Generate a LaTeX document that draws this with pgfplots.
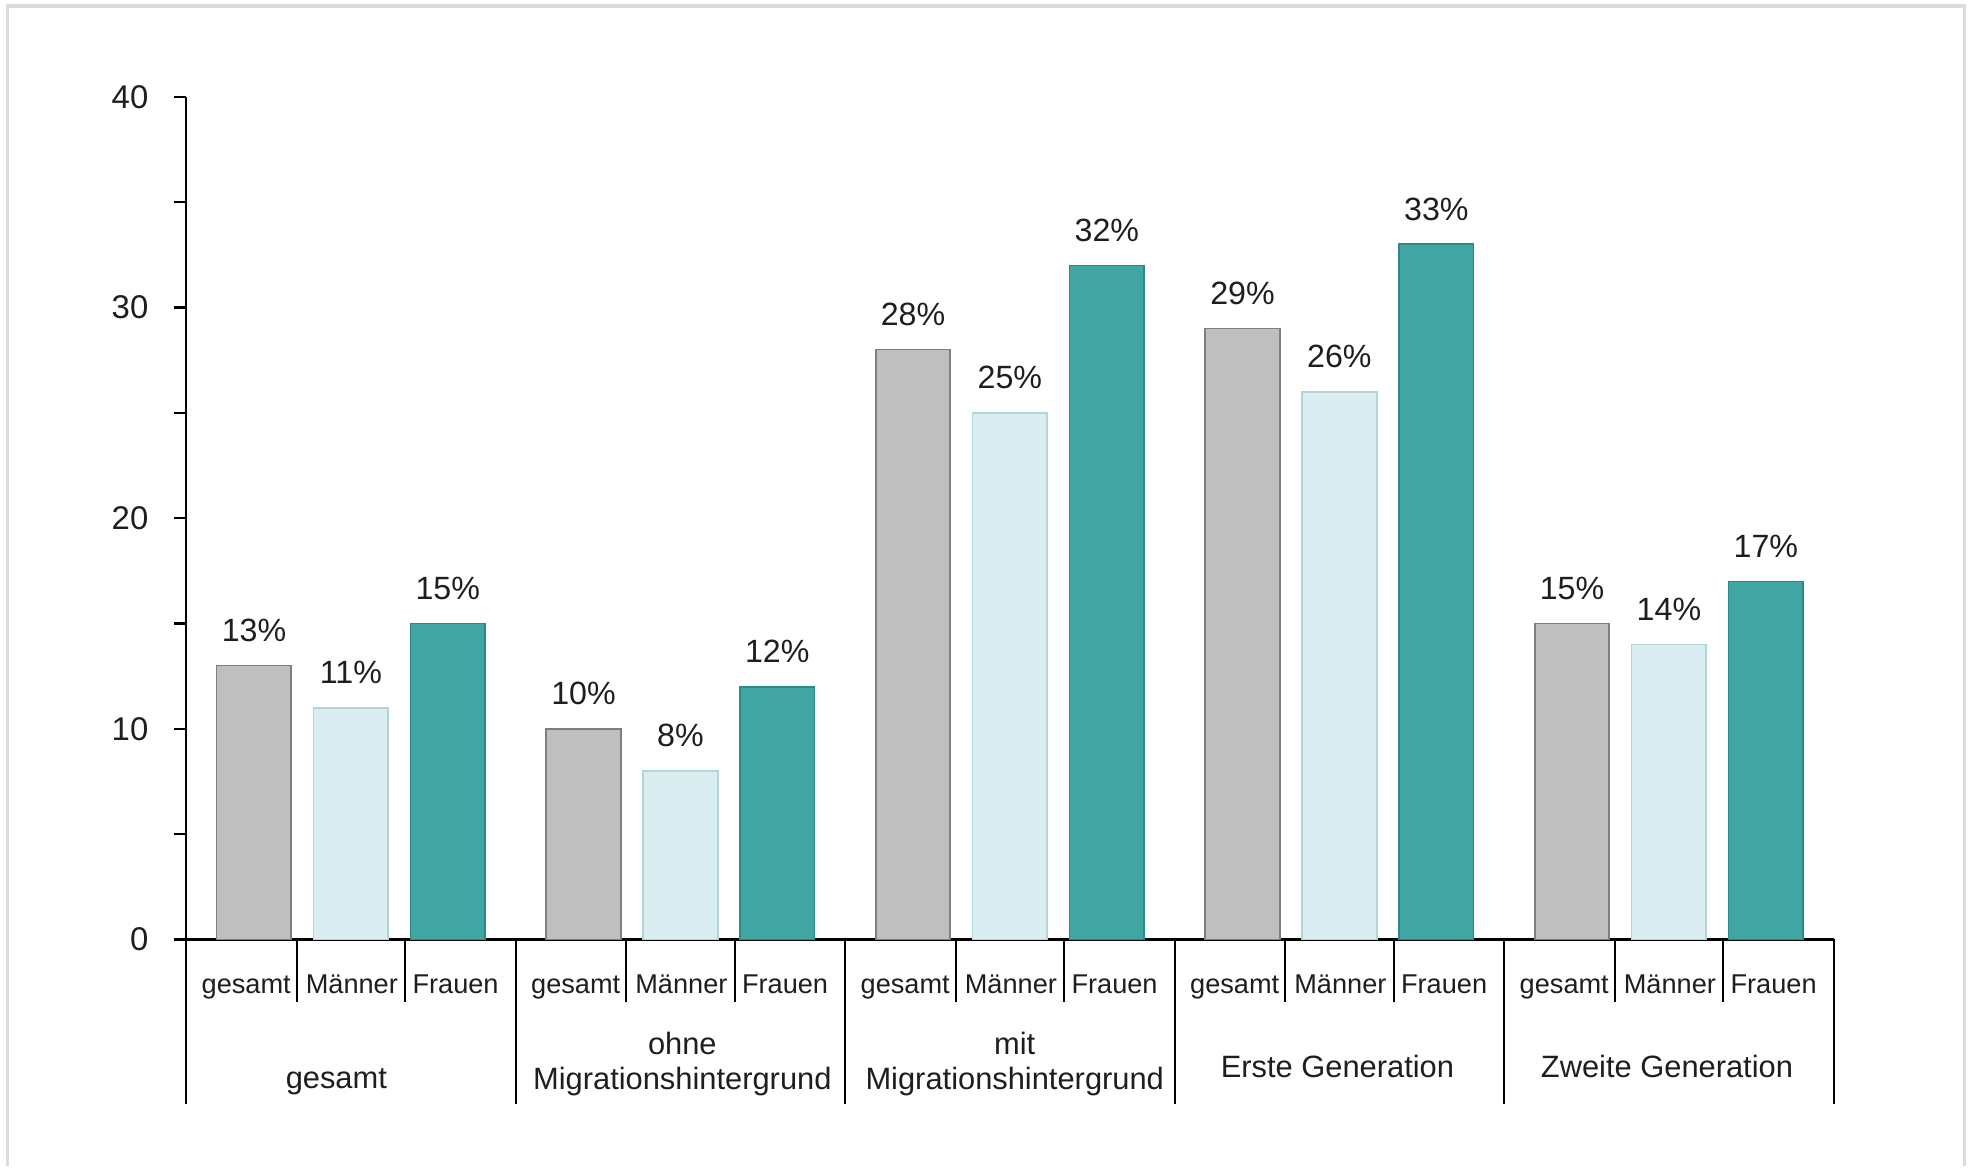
\documentclass[border=0pt]{standalone}
\usepackage{pgfplots}
\pgfplotsset{compat=1.18}
\usepackage{fontspec}
\setmainfont{Liberation Sans}
\definecolor{cgray}{HTML}{BFBFBF}
\definecolor{cgrayd}{HTML}{7F7F7F}
\definecolor{clight}{HTML}{DAEDF0}
\definecolor{clightd}{HTML}{B2D5DA}
\definecolor{cteal}{HTML}{41A6A3}
\definecolor{ctealdd}{HTML}{2B8A86}
\definecolor{ctext}{HTML}{1E1E1E}
\definecolor{cframe}{HTML}{DCDCDC}
\newcommand{\subfont}{\fontsize{8.1}{9.5}\selectfont}
\newcommand{\grpfont}{\fontsize{9.2}{10.6}\selectfont}
\tikzset{sublab/.style={font=\subfont, text=ctext, inner sep=0pt, anchor=base, yshift=-16.2pt},
         grplab/.style={font=\grpfont, text=ctext, inner sep=0pt, align=center}}
\begin{document}
\begin{tikzpicture}
\path (-55.5pt,-67.5pt) rectangle (532.5pt,280.125pt);
\draw[cframe, line width=1.1pt] (-53.25pt,-67.5pt) -- (-53.25pt,278.25pt) -- (530.25pt,278.25pt) -- (530.25pt,-67.5pt);
\begin{axis}[
  at={(0,0)}, anchor=south west,
  scale only axis,
  width=491.25pt, height=251.25pt,
  xmin=0, xmax=17, ymin=0, ymax=40,
  clip=false,
  axis lines*=left,
  axis line style={line width=0.75pt, black},
  xtick=\empty,
  ytick={0,10,20,30,40},
  minor ytick={5,15,25,35},
  ytick pos=left,
  tick align=outside,
  major tick length=3.75pt,
  minor tick length=3.75pt,
  every tick/.style={black, line width=0.75pt},
  /pgf/number format/assume math mode=true,
  yticklabel style={font=\fontsize{9.8}{11}\selectfont, text=ctext, xshift=-4pt},
  ybar, bar width=0.77, bar shift=0pt,
  nodes near coords={\pgfmathprintnumber\pgfplotspointmeta\%},
  every node near coord/.append style={font=\fontsize{9.6}{11}\selectfont, text=ctext, anchor=base, inner sep=0pt, yshift=7.2pt},
]
\addplot[fill=cgray, draw=cgrayd, line width=0.5pt] coordinates {(0.7,13) (4.1,10) (7.5,28) (10.9,29) (14.3,15)};
\addplot[fill=clight, draw=clightd, line width=0.5pt] coordinates {(1.7,11) (5.1,8) (8.5,25) (11.9,26) (15.3,14)};
\addplot[fill=cteal, draw=ctealdd, line width=0.5pt] coordinates {(2.7,15) (6.1,12) (9.5,32) (12.9,33) (16.3,17)};

% extend x axis line to the left
\draw[line width=0.75pt] (axis cs:0,0) -- ++(-3.75pt,0);
% group separators
\draw[line width=0.6pt] (axis cs:0,0) -- ++(0,-49.1pt);
\draw[line width=0.6pt] (axis cs:3.4,0) -- ++(0,-49.1pt);
\draw[line width=0.6pt] (axis cs:6.8,0) -- ++(0,-49.1pt);
\draw[line width=0.6pt] (axis cs:10.2,0) -- ++(0,-49.1pt);
\draw[line width=0.6pt] (axis cs:13.6,0) -- ++(0,-49.1pt);
\draw[line width=0.6pt] (axis cs:17,0) -- ++(0,-49.1pt);
% sub separators
\draw[line width=0.6pt] (axis cs:1.14,0) -- ++(0,-18.75pt);
\draw[line width=0.6pt] (axis cs:2.26,0) -- ++(0,-18.75pt);
\draw[line width=0.6pt] (axis cs:4.54,0) -- ++(0,-18.75pt);
\draw[line width=0.6pt] (axis cs:5.66,0) -- ++(0,-18.75pt);
\draw[line width=0.6pt] (axis cs:7.94,0) -- ++(0,-18.75pt);
\draw[line width=0.6pt] (axis cs:9.06,0) -- ++(0,-18.75pt);
\draw[line width=0.6pt] (axis cs:11.34,0) -- ++(0,-18.75pt);
\draw[line width=0.6pt] (axis cs:12.46,0) -- ++(0,-18.75pt);
\draw[line width=0.6pt] (axis cs:14.74,0) -- ++(0,-18.75pt);
\draw[line width=0.6pt] (axis cs:15.86,0) -- ++(0,-18.75pt);
% sub labels
\node[sublab] at (axis cs:0.62,0) {gesamt};
\node[sublab] at (axis cs:1.71,0) {Männer};
\node[sublab] at (axis cs:2.78,0) {Frauen};
\node[sublab] at (axis cs:4.02,0) {gesamt};
\node[sublab] at (axis cs:5.11,0) {Männer};
\node[sublab] at (axis cs:6.18,0) {Frauen};
\node[sublab] at (axis cs:7.42,0) {gesamt};
\node[sublab] at (axis cs:8.51,0) {Männer};
\node[sublab] at (axis cs:9.58,0) {Frauen};
\node[sublab] at (axis cs:10.82,0) {gesamt};
\node[sublab] at (axis cs:11.91,0) {Männer};
\node[sublab] at (axis cs:12.98,0) {Frauen};
\node[sublab] at (axis cs:14.22,0) {gesamt};
\node[sublab] at (axis cs:15.31,0) {Männer};
\node[sublab] at (axis cs:16.38,0) {Frauen};
% group labels
\node[grplab, yshift=-42.3pt] at (axis cs:1.55,0) {gesamt};
\node[grplab, yshift=-37.1pt] at (axis cs:5.12,0) {ohne\\Migrationshintergrund};
\node[grplab, yshift=-37.1pt] at (axis cs:8.55,0) {mit\\Migrationshintergrund};
\node[grplab, yshift=-37.9pt] at (axis cs:11.88,0) {Erste Generation};
\node[grplab, yshift=-37.9pt] at (axis cs:15.28,0) {Zweite Generation};
\end{axis}
\end{tikzpicture}
\end{document}
